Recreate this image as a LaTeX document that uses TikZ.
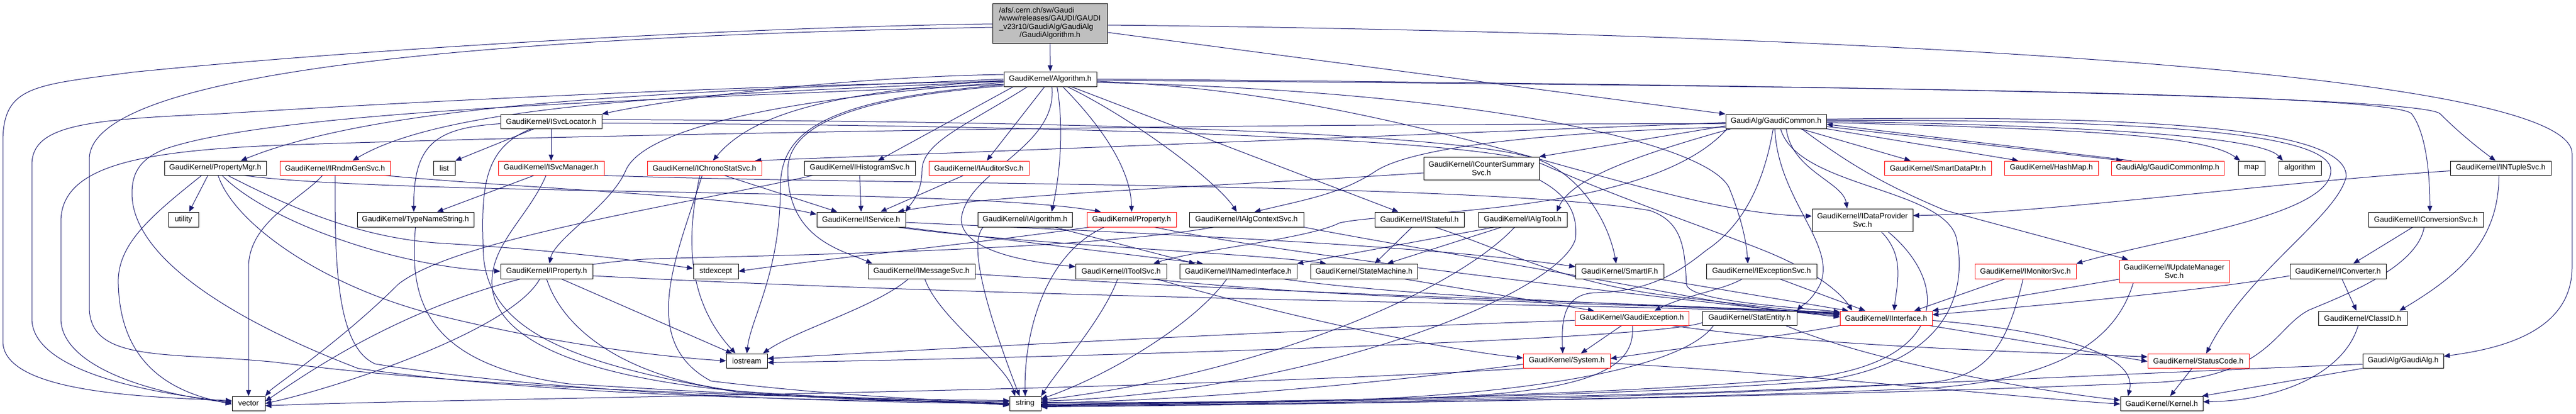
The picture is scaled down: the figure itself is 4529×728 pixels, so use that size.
\documentclass[tikz,border=0pt]{standalone}
\usepackage{fontspec}
\setmainfont{Liberation Sans}
\usetikzlibrary{arrows.meta,calc,backgrounds}
\definecolor{edgeblue}{HTML}{191970}
\definecolor{topgray}{HTML}{BFBFBF}
\newcommand{\nd}[7]{\node[#1, minimum width=#5*0.75pt, minimum height=#6*0.75pt] (#2) at (#3,#4) {#7};}
\begin{document}
\begin{tikzpicture}[x=0.75pt,y=-0.75pt,
  box/.style={draw=black, line width=0.75pt, fill=white, inner sep=0pt, align=center, font=\fontsize{10}{11.25}\selectfont},
  redbox/.style={box, draw=red},
  topbox/.style={box, fill=topgray},
  e/.style={draw=edgeblue, line width=0.75pt, -{Triangle[length=8pt,width=6.5pt]}}]
\useasboundingbox (0,0) rectangle (4529,728);
% ---------------- nodes ----------------
\nd{topbox}{GA}{1846}{41}{202}{70}{{\fontsize{10}{10.9}\selectfont\begin{tabular}{@{}l@{}}/afs/.cern.ch/sw/Gaudi\\/www/releases/GAUDI/GAUDI\\\_v23r10/GaudiAlg/GaudiAlg\\\multicolumn{1}{@{}c@{}}{/GaudiAlgorithm.h}\end{tabular}}}
\nd{box}{AL}{1846.5}{139}{163}{26}{GaudiKernel/Algorithm.h}
\nd{box}{GC}{3122.5}{213.5}{177}{25}{GaudiAlg/GaudiCommon.h}
\nd{box}{ISvcLocator}{969}{213.5}{178}{25}{GaudiKernel/ISvcLocator.h}
\nd{box}{PropertyMgr}{378.5}{295.5}{179}{25}{GaudiKernel/PropertyMgr.h}
\nd{redbox}{IRndmGenSvc}{589}{295.5}{194}{25}{GaudiKernel/IRndmGenSvc.h}
\nd{box}{list}{781}{295.5}{38}{25}{list}
\nd{redbox}{ISvcManager}{969}{295.5}{186}{25}{GaudiKernel/ISvcManager.h}
\nd{redbox}{IChronoStatSvc}{1238.5}{295.5}{201}{25}{GaudiKernel/IChronoStatSvc.h}
\nd{box}{IHistogramSvc}{1511.5}{295.5}{195}{25}{GaudiKernel/IHistogramSvc.h}
\nd{redbox}{IAuditorSvc}{1721}{295.5}{176}{25}{GaudiKernel/IAuditorSvc.h}
\nd{box}{ICounterSummarySvc}{2604.5}{296}{203}{40}{GaudiKernel/ICounterSummary\\Svc.h}
\nd{redbox}{SmartDataPtr}{3407}{295.5}{188}{25}{GaudiKernel/SmartDataPtr.h}
\nd{redbox}{HashMap}{3606.5}{295.5}{165}{25}{GaudiKernel/HashMap.h}
\nd{redbox}{GaudiCommonImp}{3811}{295.5}{198}{25}{GaudiAlg/GaudiCommonImp.h}
\nd{box}{map}{3958.5}{295.5}{47}{25}{map}
\nd{box}{algorithm}{4043.5}{295.5}{75}{25}{algorithm}
\nd{box}{INTupleSvc}{4396.5}{295.5}{177}{25}{GaudiKernel/INTupleSvc.h}
\nd{box}{utility}{322.5}{386}{53}{26}{utility}
\nd{box}{TypeNameString}{730.5}{386}{205}{26}{GaudiKernel/TypeNameString.h}
\nd{box}{IService}{1514}{386}{156}{26}{GaudiKernel/IService.h}
\nd{box}{IAlgorithm}{1802}{386}{166}{26}{GaudiKernel/IAlgorithm.h}
\nd{redbox}{Property}{1989.5}{386}{157}{26}{GaudiKernel/Property.h}
\nd{box}{IAlgContextSvc}{2191.5}{386}{201}{26}{GaudiKernel/IAlgContextSvc.h}
\nd{box}{IStateful}{2495.5}{386}{157}{26}{GaudiKernel/IStateful.h}
\nd{box}{IAlgTool}{2677}{386}{156}{26}{GaudiKernel/IAlgTool.h}
\nd{box}{IDataProviderSvc}{3274.5}{387}{177}{40}{GaudiKernel/IDataProvider\\Svc.h}
\nd{box}{IConversionSvc}{4265}{386}{202}{26}{GaudiKernel/IConversionSvc.h}
\nd{box}{IProperty}{961}{477}{162}{26}{GaudiKernel/IProperty.h}
\nd{box}{stdexcept}{1258.5}{477}{79}{26}{stdexcept}
\nd{box}{IMessageSvc}{1620}{477}{188}{26}{GaudiKernel/IMessageSvc.h}
\nd{box}{IToolSvc}{1971}{477}{160}{26}{GaudiKernel/IToolSvc.h}
\nd{box}{INamedInterface}{2177}{477}{206}{26}{GaudiKernel/INamedInterface.h}
\nd{box}{StateMachine}{2398}{477}{188}{26}{GaudiKernel/StateMachine.h}
\nd{box}{SmartIF}{2847.5}{477}{155}{26}{GaudiKernel/SmartIF.h}
\nd{box}{IExceptionSvc}{3097}{477}{194}{26}{GaudiKernel/IExceptionSvc.h}
\nd{redbox}{IMonitorSvc}{3561}{477}{178}{26}{GaudiKernel/IMonitorSvc.h}
\nd{redbox}{IUpdateManagerSvc}{3822.5}{477}{193}{40}{GaudiKernel/IUpdateManager\\Svc.h}
\nd{box}{IConverter}{4110.5}{477}{169}{26}{GaudiKernel/IConverter.h}
\nd{redbox}{GaudiException}{2869}{559.5}{200}{25}{GaudiKernel/GaudiException.h}
\nd{box}{StatEntity}{3076}{559.5}{166}{25}{GaudiKernel/StatEntity.h}
\nd{redbox}{IInterface}{3316}{559.5}{162}{25}{GaudiKernel/IInterface.h}
\nd{box}{ClassID}{4154}{559.5}{156}{25}{GaudiKernel/ClassID.h}
\nd{box}{iostream}{1313}{634.5}{72}{25}{iostream}
\nd{redbox}{System}{2754.5}{634.5}{153}{25}{GaudiKernel/System.h}
\nd{redbox}{StatusCode}{3865}{634.5}{178}{25}{GaudiKernel/StatusCode.h}
\nd{box}{GaudiAlg}{4225}{634.5}{142}{25}{GaudiAlg/GaudiAlg.h}
\nd{box}{vector}{437}{709.5}{58}{25}{vector}
\nd{box}{string}{1802.5}{709.5}{55}{25}{string}
\nd{box}{Kernel}{3800.5}{709.5}{145}{25}{GaudiKernel/Kernel.h}
% ---------------- edges ----------------
\begin{scope}[on background layer]
\fill[white] (0,0) rectangle (4529,728);
% GaudiAlgorithm.h
\draw[e] (GA.south) -- (AL.north);
\draw[e] ($(GA.east)+(0,16)$) -- (GC.north west);
\draw[e] ($(GA.west)+(0,1)$) .. controls (1300,48) and (650,85) .. (233,127) .. controls (60,150) and (5,150) .. (5,250) -- (5,600) .. controls (5,690) and (250,698) .. ($(vector.west)+(0,-5)$);
\draw[e] ($(GA.west)+(0,7)$) .. controls (1000,62) and (157,110) .. (157,280) -- (157,540) .. controls (157,640) and (300,618) .. (485,637) .. controls (900,690) and (1500,701) .. ($(string.west)+(0,-5)$);
\draw[e] ($(GA.east)+(0,3)$) .. controls (3000,55) and (4522,110) .. (4522,270) -- (4522,470) .. controls (4522,590) and (4380,615) .. ($(GaudiAlg.east)+(0,-8)$);
% Algorithm.h
\draw[e] ($(AL.south)+(-65,0)$) -- ($(IHistogramSvc.north)+(32,0)$);
\draw[e] ($(AL.south)+(-10,0)$) -- ($(IAuditorSvc.north)+(14,0)$);
\draw[e] ($(AL.south)+(12,0)$) .. controls (1870,220) and (1865,300) .. ($(IAlgorithm.north)+(47,0)$);
\draw[e] ($(AL.south)+(22,0)$) .. controls (1925,210) and (1988,290) .. (Property.north);
\draw[e] ($(AL.south)+(30,0)$) .. controls (1995,210) and (2140,320) .. ($(IAlgContextSvc.north)+(-17,0)$);
\draw[e] ($(AL.south)+(37,0)$) -- ($(IStateful.north)+(-37,0)$);
\draw[e] ($(AL.south)+(3,0)$) .. controls (1860,260) and (1700,300) .. (1690,385) .. controls (1690,440) and (1800,460) .. ($(IToolSvc.west)+(0,-8)$);
\draw[e] ($(AL.west)+(0,12)$) .. controls (1500,172) and (1385,220) .. (1385,300) .. controls (1385,420) and (1480,440) .. ($(IMessageSvc.north west)+(8,0)$);
\draw[e] ($(AL.west)+(0,10)$) .. controls (1450,175) and (1372,230) .. (1372,330) .. controls (1372,480) and (1320,560) .. (iostream.north);
\draw[e] ($(AL.west)+(0,-8)$) .. controls (1500,135) and (1200,170) .. (ISvcLocator.north east);
\draw[e] ($(AL.west)+(0,2)$) .. controls (1500,160) and (1330,190) .. ($(IChronoStatSvc.north)+(15,0)$);
\draw[e] ($(AL.west)+(0,4)$) .. controls (1300,165) and (800,175) .. ($(IRndmGenSvc.north)+(31,0)$);
\draw[e] ($(AL.west)+(0,0)$) .. controls (1300,160) and (700,170) .. ($(PropertyMgr.north)+(45,0)$);
\draw[e] ($(AL.west)+(0,6)$) .. controls (1350,175) and (1130,230) .. (1100,300) .. controls (1075,360) and (975,420) .. ($(IProperty.north)+(5,0)$);
\draw[e] ($(AL.south)+(-40,0)$) .. controls (1700,220) and (1621,250) .. (1621,300) .. controls (1621,340) and (1600,360) .. (IService.north east);
\draw[e] ($(AL.west)+(0,4)$) .. controls (1300,150) and (700,180) .. (388,200) .. controls (150,210) and (56,220) .. (56,290) -- (56,560) .. controls (56,650) and (250,690) .. ($(vector.west)+(0,-3)$);
\draw[e] ($(AL.west)+(0,9)$) .. controls (1200,175) and (500,190) .. (290,262) .. controls (250,278) and (232,300) .. (232,340) .. controls (232,450) and (400,560) .. (630,648) .. controls (1000,700) and (1500,705) .. ($(string.west)+(0,-3)$);
\draw[e] ($(AL.east)+(0,2)$) .. controls (3000,150) and (4200,160) .. (4240,200) .. controls (4270,240) and (4272,330) .. ($(IConversionSvc.north)+(7,0)$);
\draw[e] ($(AL.east)+(0,0)$) .. controls (3000,148) and (4250,165) .. (4290,200) .. controls (4330,240) and (4370,270) .. ($(INTupleSvc.north)+(-9,0)$);
\draw[e] ($(AL.east)+(0,6)$) .. controls (2600,160) and (3000,250) .. (3040,330) .. controls (3060,380) and (3070,420) .. ($(IExceptionSvc.north)+(-24,0)$);
\draw[e] ($(AL.east)+(0,4)$) .. controls (2500,165) and (2900,375) .. ($(IDataProviderSvc.west)+(0,-7)$);
% GaudiCommon.h
\draw[e] ($(GC.west)+(0,4)$) .. controls (2000,218) and (1000,238) .. (500,255) .. controls (250,265) and (107,290) .. (107,390) -- (107,560) .. controls (107,640) and (250,690) .. ($(vector.west)+(0,-1)$);
\draw[e] ($(GC.south)+(8,0)$) .. controls (3160,330) and (3420,330) .. (3440,420) .. controls (3460,520) and (3420,640) .. (3200,670) .. controls (2800,700) and (2100,710) .. ($(string.east)+(0,-2)$);
\draw[e] ($(GC.west)+(0,2)$) -- ($(IChronoStatSvc.north east)+(-12,0)$);
\draw[e] ($(GC.west)+(0,8)$) -- (ICounterSummarySvc.north east);
\draw[e] ($(GC.south west)+(10,0)$) .. controls (2850,280) and (2760,320) .. ($(IAlgTool.north)+(60,0)$);
\draw[e] ($(GC.south west)+(3,0)$) .. controls (2900,380) and (2450,370) .. (2355,392) .. controls (2300,420) and (2100,440) .. ($(IToolSvc.north)+(57,0)$);
\draw[e] ($(GC.west)+(0,10)$) .. controls (2800,230) and (2500,250) .. (2420,300) .. controls (2360,340) and (2300,350) .. ($(IAlgContextSvc.north)+(14,0)$);
\draw[e] ($(GC.south)+(18,0)$) .. controls (3150,300) and (3240,320) .. ($(IDataProviderSvc.north)+(-27,0)$);
\draw[e] ($(GC.south)+(43,0)$) -- ($(SmartDataPtr.north)+(-48,0)$);
\draw[e] (GC.south east) -- ($(HashMap.north)+(-58,0)$);
\draw[e] ($(GC.east)+(0,9)$) -- ($(GaudiCommonImp.north west)+(20,0)$);
\draw[e] ($(GaudiCommonImp.north west)+(36,0)$) -- ($(GC.east)+(0,5)$);
\draw[e] ($(GC.east)+(0,2)$) .. controls (3700,228) and (3880,240) .. ($(map.north west)+(4,0)$);
\draw[e] ($(GC.east)+(0,0)$) .. controls (3750,222) and (3980,245) .. ($(algorithm.north)+(-30,0)$);
\draw[e] ($(GC.east)+(0,-2)$) .. controls (3850,210) and (4098,240) .. (4098,300) .. controls (4098,380) and (3800,420) .. (IMonitorSvc.north east);
\draw[e] ($(GC.east)+(0,-4)$) .. controls (3900,200) and (4125,240) .. (4125,310) .. controls (4110,380) and (3950,480) .. ($(StatusCode.north)+(14,0)$);
\draw[e] ($(GC.south)+(45,0)$) .. controls (3240,280) and (3300,320) .. (3420,370) -- ($(IUpdateManagerSvc.north west)+(16,0)$);
\draw[e] ($(GC.south)+(-2,0)$) .. controls (3125,350) and (3230,430) .. (3200,500) .. controls (3185,530) and (3165,540) .. (StatEntity.north east);
\draw[e] ($(GC.south)+(-5,0)$) .. controls (3100,330) and (3060,400) .. (3000,440) .. controls (2950,480) and (2900,513) .. (2800,515) .. controls (2750,520) and (2745,560) .. ($(System.north)+(-7,0)$);
% ISvcLocator.h
\draw[e] ($(ISvcLocator.south)+(-30,0)$) -- (list.north east);
\draw[e] (ISvcLocator.south) -- (ISvcManager.north);
\draw[e] ($(ISvcLocator.west)+(0,4)$) .. controls (770,225) and (727,250) .. ($(TypeNameString.north)+(-3,0)$);
\draw[e] ($(ISvcLocator.south)+(-35,0)$) .. controls (850,260) and (845,330) .. (850,450) .. controls (860,580) and (1000,640) .. (1300,690) .. controls (1500,705) and (1700,708) .. (string.west);
\draw[e] ($(ISvcLocator.east)+(0,-3)$) .. controls (1800,212) and (2600,230) .. (2715,285) .. controls (2790,320) and (2830,400) .. ($(SmartIF.north)+(-6,0)$);
\draw[e] ($(ISvcLocator.east)+(0,3)$) .. controls (1800,220) and (2600,240) .. (2715,290) .. controls (2850,350) and (3000,400) .. (3100,440) .. controls (3200,480) and (3240,520) .. ($(IInterface.north west)+(22,0)$);
% PropertyMgr.h
\draw[e] ($(PropertyMgr.south)+(-13,0)$) -- ($(utility.north)+(10,0)$);
\draw[e] ($(PropertyMgr.south)+(-24,0)$) .. controls (265,380) and (205,430) .. (208,500) .. controls (212,640) and (300,690) .. ($(vector.west)+(0,1)$);
\draw[e] ($(PropertyMgr.south)+(5,0)$) .. controls (410,390) and (560,500) .. (760,552) .. controls (1000,612) and (1200,630) .. (iostream.west);
\draw[e] ($(PropertyMgr.south)+(12,0)$) .. controls (470,390) and (700,470) .. (IProperty.west);
\draw[e] ($(PropertyMgr.south)+(22,0)$) .. controls (520,370) and (640,420) .. (780,428) .. controls (950,438) and (1100,455) .. ($(stdexcept.west)+(0,-5)$);
\draw[e] ($(PropertyMgr.south east)+(-40,0)$) .. controls (700,345) and (1700,330) .. ($(Property.north west)+(25,0)$);
% IRndmGenSvc.h
\draw[e] ($(IRndmGenSvc.south)+(-22,0)$) .. controls (530,350) and (437,390) .. (437,470) -- (vector.north);
\draw[e] (IRndmGenSvc.south) .. controls (589,450) and (589,610) .. (660,640) .. controls (1000,695) and (1500,708) .. (string.west);
\draw[e] ($(IRndmGenSvc.south east)+(-10,0)$) .. controls (900,330) and (1300,345) .. ($(IService.west)+(0,-9)$);
% ISvcManager.h
\draw[e] ($(ISvcManager.south)+(-30,0)$) -- ($(TypeNameString.north)+(38,0)$);
\draw[e] ($(ISvcManager.south)+(-9,0)$) .. controls (930,380) and (862,430) .. (865,500) .. controls (870,620) and (1100,680) .. (1400,695) .. controls (1600,703) and (1700,706) .. ($(string.west)+(0,2)$);
\draw[e] (ISvcManager.south east) .. controls (1500,325) and (2600,320) .. (2900,370) .. controls (2960,390) and (2962,440) .. (2965,500) .. controls (2970,530) and (3150,540) .. ($(IInterface.west)+(0,-11)$);
% IChronoStatSvc.h
\draw[e] ($(IChronoStatSvc.south)+(35,0)$) -- ($(IService.north)+(-42,0)$);
\draw[e] ($(IChronoStatSvc.south)+(-8,0)$) .. controls (1210,400) and (1200,520) .. ($(iostream.north)+(-20,0)$);
\draw[e] ($(IChronoStatSvc.south)+(-4,0)$) .. controls (1190,450) and (1120,600) .. (1250,670) .. controls (1500,700) and (1700,705) .. (string.west);
% IHistogramSvc.h
\draw[e] (IHistogramSvc.south) -- (IService.north);
\draw[e] ($(IHistogramSvc.south west)+(16,0)$) .. controls (1200,360) and (800,420) .. (700,500) .. controls (600,600) and (480,680) .. (vector.north east);
% IAuditorSvc.h
\draw[e] ($(IAuditorSvc.south)+(-27,0)$) -- ($(IService.north)+(34,0)$);
% IService.h
\draw[e] ($(IService.south east)+(-5,0)$) -- ($(INamedInterface.north)+(-62,0)$);
\draw[e] ($(IService.south east)+(-15,0)$) .. controls (1800,430) and (2200,445) .. ($(StateMachine.north west)+(28,0)$);
\draw[e] ($(IService.east)+(0,5)$) .. controls (2000,410) and (2500,430) .. ($(SmartIF.west)+(0,-8)$);
% IAlgorithm.h
\draw[e] ($(IAlgorithm.south)+(52,0)$) -- ($(INamedInterface.north)+(-76,0)$);
\draw[e] ($(IAlgorithm.south west)+(10,0)$) .. controls (1700,430) and (1740,560) .. ($(string.north)+(-10,0)$);
% Property.h
\draw[e] ($(Property.south)+(-48,0)$) .. controls (1830,450) and (1800,600) .. (string.north);
\draw[e] ($(Property.south west)+(5,0)$) .. controls (1700,430) and (1450,455) .. (stdexcept.east);
\draw[e] ($(Property.south)+(40,0)$) .. controls (2300,455) and (2900,520) .. ($(IInterface.west)+(0,-2)$);
% IAlgContextSvc.h
\draw[e] ($(IAlgContextSvc.south west)+(44,0)$) .. controls (1900,440) and (1400,448) .. (1150,455) .. controls (800,470) and (550,650) .. ($(vector.east)+(0,-4)$);
\draw[e] (IAlgContextSvc.south east) .. controls (2450,430) and (2700,470) .. (2990,525) .. controls (3100,545) and (3180,550) .. ($(IInterface.west)+(0,-4)$);
% IStateful.h
\draw[e] ($(IStateful.south)+(-13,0)$) -- ($(StateMachine.north)+(19,0)$);
\draw[e] ($(IStateful.south)+(27,0)$) .. controls (2650,440) and (2750,500) .. (2950,522) .. controls (3100,540) and (3180,548) .. ($(IInterface.west)+(0,-6)$);
% IAlgTool.h
\draw[e] ($(IAlgTool.south)+(-37,0)$) -- ($(StateMachine.north)+(41,0)$);
\draw[e] ($(IAlgTool.south west)+(29,0)$) -- (INamedInterface.north east);
\draw[e] ($(IAlgTool.south)+(-14,0)$) .. controls (2550,520) and (2200,660) .. ($(string.east)+(0,-6)$);
% IProperty.h
\draw[e] ($(IProperty.south)+(26,0)$) -- ($(iostream.north)+(-26,0)$);
\draw[e] (IProperty.south) .. controls (990,580) and (1100,665) .. (1300,688) .. controls (1500,703) and (1700,707) .. ($(string.west)+(0,3)$);
\draw[e] ($(IProperty.south)+(-12,0)$) .. controls (900,580) and (600,680) .. (vector.east);
\draw[e] ($(IProperty.east)+(0,8)$) .. controls (1800,525) and (2800,535) .. ($(IInterface.west)+(0,-9)$);
% IMessageSvc.h
\draw[e] ($(IMessageSvc.south)+(-23,0)$) .. controls (1540,540) and (1400,580) .. ($(iostream.north east)+(-8,0)$);
\draw[e] ($(IMessageSvc.south)+(6,0)$) .. controls (1650,560) and (1770,640) .. ($(string.north)+(-18,0)$);
\draw[e] ($(IMessageSvc.east)+(0,5)$) .. controls (2300,520) and (2900,532) .. ($(IInterface.west)+(0,-8)$);
% IToolSvc.h
\draw[e] ($(IToolSvc.south)+(-6,0)$) .. controls (1940,560) and (1860,650) .. (string.north east);
\draw[e] ($(IToolSvc.south east)+(-30,0)$) .. controls (2400,530) and (2900,535) .. ($(IInterface.west)+(0,-10)$);
\draw[e] ($(IToolSvc.south east)+(-18,0)$) .. controls (2200,540) and (2500,610) .. ($(System.west)+(0,-5)$);
% INamedInterface.h
\draw[e] ($(INamedInterface.south)+(-20,0)$) .. controls (2100,570) and (1950,660) .. ($(string.east)+(0,-8)$);
\draw[e] ($(INamedInterface.south east)+(-25,0)$) .. controls (2500,525) and (2900,535) .. ($(IInterface.west)+(0,-7)$);
% StateMachine.h
\draw[e] ($(StateMachine.south east)+(-24,0)$) -- ($(GaudiException.north west)+(34,0)$);
% SmartIF.h
\draw[e] ($(SmartIF.south east)+(-10,0)$) -- ($(IInterface.north west)+(15,0)$);
% ICounterSummarySvc.h
\draw[e] ($(ICounterSummarySvc.west)+(0,8)$) .. controls (2200,325) and (1750,340) .. ($(IService.north east)+(-14,0)$);
\draw[e] (ICounterSummarySvc.south east) .. controls (2750,340) and (2775,370) .. (2770,420) .. controls (2740,520) and (2300,690) .. ($(string.east)+(0,-4)$);
% IDataProviderSvc.h
\draw[e] ($(IDataProviderSvc.south)+(33,0)$) .. controls (3350,450) and (3335,500) .. ($(IInterface.north)+(14,0)$);
\draw[e] ($(IDataProviderSvc.south)+(45,0)$) .. controls (3430,500) and (3420,630) .. (3200,662) .. controls (2800,700) and (2100,710) .. ($(string.east)+(0,1)$);
% IExceptionSvc.h
\draw[e] ($(IExceptionSvc.south)+(32,0)$) -- ($(IInterface.north west)+(45,0)$);
\draw[e] ($(IExceptionSvc.south)+(-34,0)$) .. controls (3030,510) and (2960,520) .. ($(GaudiException.north)+(40,0)$);
% IMonitorSvc.h
\draw[e] ($(IMonitorSvc.south)+(-36,0)$) -- ($(IInterface.north east)+(-32,0)$);
\draw[e] ($(IMonitorSvc.south)+(-4,0)$) .. controls (3530,600) and (3500,660) .. (3400,672) .. controls (3000,700) and (2200,712) .. ($(string.east)+(0,3)$);
% IUpdateManagerSvc.h
\draw[e] ($(IUpdateManagerSvc.west)+(0,14)$) -- (IInterface.north east);
\draw[e] ($(IUpdateManagerSvc.south west)+(25,0)$) .. controls (3720,600) and (3620,665) .. (3400,682) .. controls (3000,702) and (2200,712) .. ($(string.east)+(0,5)$);
% GaudiException.h
\draw[e] ($(GaudiException.south)+(-18,0)$) -- ($(System.north)+(25,0)$);
\draw[e] ($(GaudiException.south)+(1,0)$) .. controls (2875,640) and (2820,690) .. (2500,700) .. controls (2200,707) and (1950,709) .. ($(string.east)+(0,2)$);
\draw[e] ($(GaudiException.south east)+(-30,0)$) .. controls (3200,610) and (3600,620) .. ($(StatusCode.west)+(0,-7)$);
\draw[e] ($(GaudiException.west)+(0,4)$) .. controls (2400,575) and (1700,610) .. ($(iostream.east)+(0,-4)$);
% StatEntity.h
\draw[e] ($(StatEntity.west)+(0,8)$) .. controls (2900,600) and (1800,630) .. ($(iostream.east)+(0,3)$);
\draw[e] ($(StatEntity.south west)+(20,0)$) .. controls (2950,660) and (2600,700) .. (2300,705) .. controls (2100,708) and (1950,710) .. ($(string.east)+(0,4)$);
\draw[e] ($(StatEntity.south east)+(-20,0)$) .. controls (3300,640) and (3600,690) .. ($(Kernel.west)+(0,-6)$);
% IInterface.h
\draw[e] (IInterface.south west) .. controls (3150,590) and (2950,612) .. ($(System.east)+(0,-4)$);
\draw[e] ($(IInterface.south east)+(-5,0)$) -- ($(StatusCode.west)+(0,1)$);
\draw[e] ($(IInterface.east)+(0,4)$) .. controls (3600,580) and (3760,620) .. ($(Kernel.north west)+(14,0)$);
% System.h
\draw[e] ($(System.east)+(0,4)$) .. controls (3200,660) and (3500,695) .. ($(Kernel.west)+(0,1)$);
\draw[e] ($(System.west)+(0,6)$) .. controls (2300,690) and (2000,706) .. ($(string.east)+(0,-1)$);
\draw[e] ($(System.south west)+(5,0)$) .. controls (2000,690) and (800,700) .. ($(vector.east)+(0,4)$);
% StatusCode.h
\draw[e] ($(StatusCode.south)+(-11,0)$) -- ($(Kernel.north)+(15,0)$);
% INTupleSvc.h
\draw[e] ($(INTupleSvc.west)+(0,5)$) .. controls (4000,320) and (3600,375) .. ($(IDataProviderSvc.east)+(0,-8)$);
\draw[e] ($(INTupleSvc.south)+(-3,0)$) .. controls (4393,420) and (4330,480) .. ($(ClassID.north east)+(-14,0)$);
% IConversionSvc.h
\draw[e] ($(IConversionSvc.south)+(-23,0)$) -- ($(IConverter.north)+(27,0)$);
\draw[e] ($(IConversionSvc.south)+(-3,0)$) .. controls (4250,470) and (4120,520) .. (4060,545) .. controls (4000,575) and (3990,660) .. (3800,672) .. controls (3200,700) and (2200,712) .. ($(string.east)+(0,6)$);
% IConverter.h
\draw[e] ($(IConverter.south)+(7,0)$) -- ($(ClassID.north)+(-11,0)$);
\draw[e] ($(IConverter.west)+(0,8)$) .. controls (3850,515) and (3550,540) .. ($(IInterface.east)+(0,-6)$);
% ClassID.h
\draw[e] ($(ClassID.south)+(-8,0)$) .. controls (4120,660) and (4000,705) .. ($(Kernel.east)+(0,-3)$);
% GaudiAlg.h
\draw[e] ($(GaudiAlg.south west)+(2,0)$) -- ($(Kernel.north east)+(-2,0)$);
\draw[e] ($(GaudiAlg.west)+(0,6)$) .. controls (3900,650) and (3500,670) .. (3000,690) .. controls (2500,705) and (2000,710) .. ($(string.east)+(0,5)$);
% TypeNameString.h
\draw[e] (TypeNameString.south) .. controls (720,520) and (740,640) .. (1000,675) .. controls (1400,700) and (1650,707) .. ($(string.west)+(0,1)$);
\end{scope}
\end{tikzpicture}
\end{document}
